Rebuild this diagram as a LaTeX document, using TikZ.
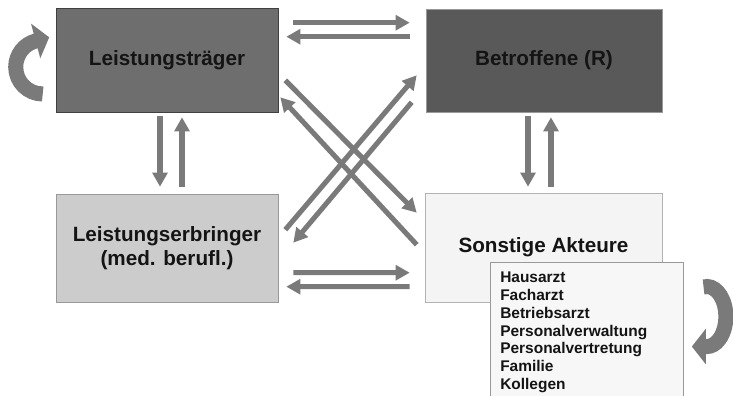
\documentclass[tikz,border=0pt]{standalone}
\usepackage{fontspec}
\setmainfont{Liberation Sans}
\usetikzlibrary{arrows.meta,calc}
\definecolor{traegergray}{HTML}{6E6E6E}
\definecolor{betroffengray}{HTML}{595959}
\definecolor{erbringergray}{HTML}{CCCCCC}
\definecolor{sonstigegray}{HTML}{F4F4F4}
\definecolor{arrowgray}{HTML}{7A7A7A}

\begin{document}
\begin{tikzpicture}[x=0.25mm,y=-0.25mm,
  actor/.style={draw, inner sep=0pt, align=center, text=black!92,
    font=\fontsize{14.7}{16.7}\selectfont\bfseries},
  flow/.style={draw=arrowgray, line width=3.6pt, -{Triangle[width=10.5pt,length=10pt]}},
  roundflow/.style={draw=arrowgray, line width=10.7pt, -{Triangle[width=25pt,length=10pt]}}]
\useasboundingbox (0,0) rectangle (733,396);
\clip (0,0) rectangle (733,396);

% the four parties
\node (traeger) [actor, fill=traegergray, draw=black!75, minimum width=55.5mm, minimum height=26mm] at (167,60) {Leistungsträger};
\node (betroffene) [actor, fill=betroffengray, draw=black!40, minimum width=59mm, minimum height=25.75mm] at (544,60.5) {Betroffene (R)};
\node (erbringer) [actor, fill=erbringergray, draw=black!40, minimum width=55.5mm, minimum height=27mm] at (167,248) {Leistungserbringer\\(med. berufl.)};
\node (sonstige) [actor, fill=sonstigegray, draw=black!30, minimum width=59.25mm, minimum height=27.25mm] at (543.5,247.5) {Sonstige Akteure};
\node (akteure) [anchor=north west, draw=black!40, fill=white!97!black, align=left, text=black!92,
  text width=43.25mm, inner xsep=2.5mm, inner ysep=7pt,
  font=\fontsize{11}{12.66}\selectfont\bfseries] at (490,262) {
Hausarzt\\
Facharzt\\
Betriebsarzt\\
Personalverwaltung\\
Personalvertretung\\
Familie\\
Kollegen\\
\mbox{}};

% horizontal
\draw [flow] ($(traeger.north east)+(15,15)$) -- ($(betroffene.north west)+(-16,14)$);
\draw [flow] ($(betroffene.north west)+(-16,28)$) -- ($(traeger.north east)+(8,29)$);
\draw [flow] ($(erbringer.north east)+(15,79)$) -- ($(sonstige.north west)+(-15,80)$);
\draw [flow] ($(sonstige.north west)+(-15,94)$) -- ($(erbringer.north east)+(8,93)$);

% vertical
\draw [flow] ($(traeger.south)+(-7,4)$) -- ($(erbringer.north)+(-7,-7)$);
\draw [flow] ($(erbringer.north)+(15,-7)$) -- ($(traeger.south)+(15,5)$);
\draw [flow] ($(betroffene.south)+(-16,4)$) -- ($(sonstige.north)+(-15.5,-6)$);
\draw [flow] ($(sonstige.north)+(7.5,-6)$) -- ($(betroffene.south)+(7,5)$);

% diagonal
\draw [flow] ($(traeger.south east)+(7,-32)$) -- ($(sonstige.north west)+(-8,20)$);
\draw [flow] ($(sonstige.north west)+(-8,52)$) -- ($(traeger.south east)+(2,-15)$);
\draw [flow] ($(erbringer.north east)+(7,36)$) -- ($(betroffene.south west)+(-9,-37)$);
\draw [flow] ($(betroffene.south west)+(-14,-10)$) -- ($(erbringer.north east)+(15,49)$);

% loops
\draw [roundflow] ($(traeger.west)+(-13,34)$) arc [start angle=90, end angle=255, radius=27] -- ++(13.5,-3.6);
\draw [roundflow] ($(akteure.north east)+(20,25)$) arc [start angle=-100, end angle=90, x radius=19, y radius=30] -- ++(-15,0);
\end{tikzpicture}
\end{document}
